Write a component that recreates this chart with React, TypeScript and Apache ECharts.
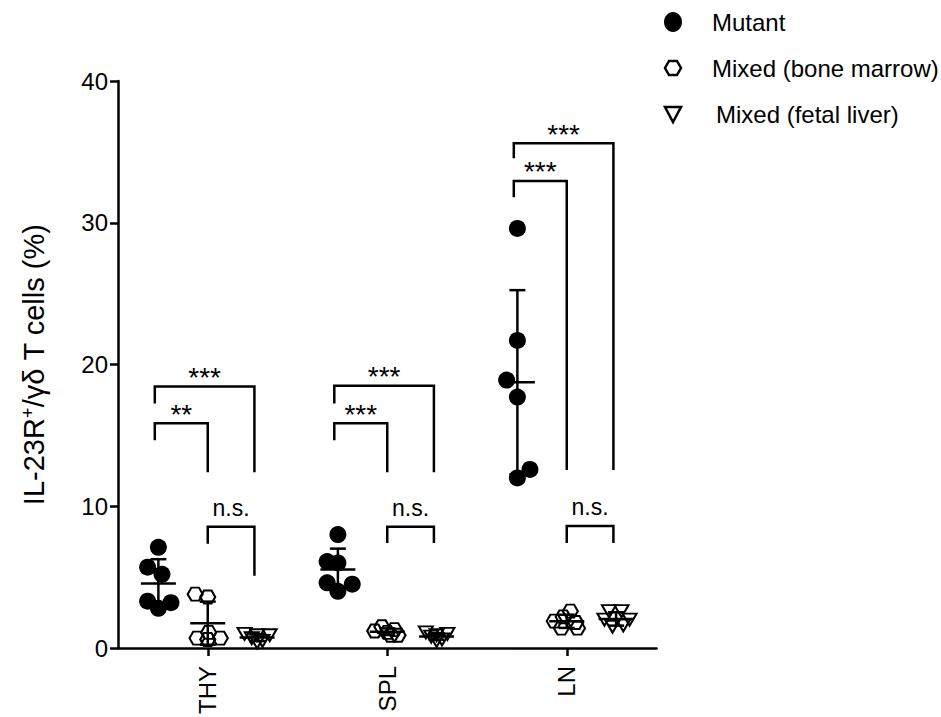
import React, { useEffect, useRef } from 'react';
import * as echarts from 'echarts';

const categories = ['THY', 'SPL', 'LN'];
const seriesNames = ['Mutant', 'Mixed (bone marrow)', 'Mixed (fetal liver)'];

const mutant = [
  [7.1, 5.7, 5.2, 3.3, 2.8, 3.2],
  [8.0, 6.1, 6.0, 4.6, 4.0, 4.5],
  [29.6, 21.7, 18.9, 17.7, 12.0, 12.6],
];
const mixedBoneMarrow = [
  [3.8, 3.6, 0.7, 0.6, 0.7, 1.1],
  [1.5, 1.3, 1.2, 1.1, 0.9, 0.9],
  [2.6, 2.2, 1.9, 1.8, 1.4, 1.4],
];
const mixedFetalLiver = [
  [1.0, 0.9, 0.9, 0.7, 0.5, 0.4],
  [1.1, 1.0, 0.9, 0.8, 0.6, 0.5],
  [2.6, 2.6, 2.0, 2.0, 1.5, 1.6],
];

// horizontal scatter of the points inside a group (x-axis units)
const mutantJitter = [
  [0.0, -0.06, 0.02, -0.06, 0.0, 0.07],
  [0.0, -0.06, 0.0, -0.06, 0.0, 0.08],
  [0.0, 0.0, -0.06, 0.0, 0.0, 0.07],
];
const boneMarrowJitter = [
  [-0.07, 0.0, -0.06, 0.0, 0.07, 0.005],
  [-0.03, 0.04, -0.07, 0.0, 0.06, 0.02],
  [0.02, -0.02, -0.07, 0.05, -0.03, 0.06],
];
const fetalLiverJitter = [
  [-0.07, 0.07, 0.0, -0.03, 0.03, 0.0],
  [-0.06, 0.06, 0.0, -0.03, 0.03, 0.0],
  [-0.04, 0.03, -0.065, 0.075, -0.02, 0.04],
];

// significance brackets: [group, fromSeries, toSeries, top, fromEnd, toEnd]
const brackets = [
  [0, 0, 2, 18.45, 17.25, 12.4],
  [0, 0, 1, 15.85, 14.65, 12.4],
  [0, 1, 2, 8.55, 7.35, 5.1],
  [1, 0, 2, 18.5, 17.25, 12.4],
  [1, 0, 1, 15.85, 14.65, 12.4],
  [1, 1, 2, 8.55, 7.4, 7.4],
  [2, 0, 2, 35.6, 34.55, 12.55],
  [2, 0, 1, 32.95, 31.8, 12.55],
  [2, 1, 2, 8.6, 7.4, 7.4],
];
const bracketLabels = ['***', '**', 'n.s.', '***', '***', 'n.s.', '***', '***', 'n.s.'];

const FONT = '"Liberation Sans", Arial, Helvetica, sans-serif';
const seriesOffset = [-0.275, 0, 0.275];
const bracketOffset = [-0.295, 0, 0.26];
const hexPath = 'path://M0,8.66L5,0L15,0L20,8.66L15,17.32L5,17.32Z';
const downTriPath = 'path://M0,0L16,0L8,14Z';

const allValues = [mutant, mixedBoneMarrow, mixedFetalLiver];
const allJitter = [mutantJitter, boneMarrowJitter, fetalLiverJitter];

function meanSd(v: number[]) {
  const m = v.reduce((a, b) => a + b, 0) / v.length;
  const s = Math.sqrt(v.reduce((a, b) => a + (b - m) * (b - m), 0) / (v.length - 1));
  return [m, s];
}

export default function App() {
  const ref = useRef<HTMLDivElement>(null);
  useEffect(() => {
    if (!ref.current) return;
    const chart = echarts.init(ref.current, undefined, { renderer: 'svg' });

    const hollow = { color: 'rgba(255,255,255,0)', borderColor: '#000', borderWidth: 2, opacity: 1 };
    const symbols: any[] = [
      { symbol: 'circle', symbolSize: 17, itemStyle: { color: '#000', opacity: 1 } },
      { symbol: hexPath, symbolSize: [15, 13], itemStyle: hollow },
      { symbol: downTriPath, symbolSize: [14, 12], itemStyle: hollow },
    ];

    const scatterSeries = seriesNames.map((name, si) => {
      const data: number[][] = [];
      allValues[si].forEach((vals, g) => {
        vals.forEach((v, k) => {
          data.push([g + 1 + seriesOffset[si] + allJitter[si][g][k], v]);
        });
      });
      return {
        name,
        type: 'scatter',
        data,
        ...symbols[si],
        z: 2,
      };
    });

    const errData: number[][] = [];
    allValues.forEach((groups, si) => {
      groups.forEach((vals, g) => {
        const [m, s] = meanSd(vals);
        errData.push([g + 1 + seriesOffset[si], m, s]);
      });
    });

    const lw = 2.5;
    const errSeries = {
      type: 'custom',
      z: 3,
      silent: true,
      data: errData,
      encode: { x: 0, y: 1 },
      renderItem: (params: any, api: any) => {
        const x = api.value(0);
        const m = api.value(1);
        const s = api.value(2);
        const c = api.coord([x, m]);
        const t = api.coord([x, m + s]);
        const b = api.coord([x, Math.max(m - s, 0)]);
        const st = { stroke: '#000', lineWidth: lw };
        return {
          type: 'group',
          children: [
            { type: 'line', shape: { x1: c[0], y1: t[1], x2: c[0], y2: b[1] }, style: st },
            { type: 'line', shape: { x1: c[0] - 17.5, y1: c[1], x2: c[0] + 17.5, y2: c[1] }, style: st },
            { type: 'line', shape: { x1: c[0] - 8, y1: t[1], x2: c[0] + 8, y2: t[1] }, style: st },
            { type: 'line', shape: { x1: c[0] - 8, y1: b[1], x2: c[0] + 8, y2: b[1] }, style: st },
          ],
        };
      },
    };

    const bracketData = brackets.map((b) => [
      b[0] + 1 + bracketOffset[b[1]],
      b[0] + 1 + bracketOffset[b[2]],
      b[3],
      b[4],
      b[5],
    ]);

    const bracketSeries = {
      type: 'custom',
      z: 4,
      silent: true,
      data: bracketData,
      encode: { x: [0, 1], y: [2, 3, 4] },
      renderItem: (params: any, api: any) => {
        const x1 = api.value(0);
        const x2 = api.value(1);
        const top = api.value(2);
        const p1 = api.coord([x1, top]);
        const p2 = api.coord([x2, top]);
        const e1 = api.coord([x1, api.value(3)]);
        const e2 = api.coord([x2, api.value(4)]);
        const label = bracketLabels[params.dataIndex];
        const isStar = label.indexOf('*') >= 0;
        return {
          type: 'group',
          children: [
            {
              type: 'polyline',
              shape: { points: [[p1[0], e1[1]], [p1[0], p1[1]], [p2[0], p2[1]], [p2[0], e2[1]]] },
              style: { stroke: '#000', lineWidth: lw, fill: 'none' },
            },
            {
              type: 'text',
              x: (p1[0] + p2[0]) / 2,
              y: p1[1] - (isStar ? 9 : 19),
              style: {
                text: label,
                fontSize: isStar ? 28 : 23,
                fontFamily: FONT,
                fill: '#000',
                align: 'center',
                verticalAlign: 'middle',
              },
            },
          ],
        };
      },
    };

    const axisLineStyle = { color: '#000', width: lw };

    // legend drawn as graphic elements (icon + label per series)
    const legendX = 673;
    const legendTextX = [712, 712, 716];
    const legendY = [22, 68, 114];
    const legendIcons: any[] = [
      { type: 'ellipse', shape: { cx: legendX, cy: legendY[0], rx: 9, ry: 10 }, style: { fill: '#000' } },
      {
        type: 'polygon',
        shape: {
          points: [
            [legendX - 8, legendY[1]],
            [legendX - 4, legendY[1] - 7],
            [legendX + 4, legendY[1] - 7],
            [legendX + 8, legendY[1]],
            [legendX + 4, legendY[1] + 7],
            [legendX - 4, legendY[1] + 7],
          ],
        },
        style: { fill: 'none', stroke: '#000', lineWidth: 2.5 },
      },
      {
        type: 'polygon',
        shape: {
          points: [
            [legendX - 8, legendY[2] - 7],
            [legendX + 8, legendY[2] - 7],
            [legendX, legendY[2] + 8],
          ],
        },
        style: { fill: 'none', stroke: '#000', lineWidth: 2.5 },
      },
    ];
    const legendTexts = seriesNames.map((name, i) => ({
      type: 'text',
      x: legendTextX[i],
      y: legendY[i],
      style: {
        text: name,
        fontSize: 24,
        fontFamily: FONT,
        fill: '#000',
        align: 'left',
        verticalAlign: 'middle',
      },
    }));

    chart.setOption({
      animation: false,
      backgroundColor: '#fff',
      textStyle: { fontFamily: FONT },
      grid: { left: 118, right: 284.5, top: 81, bottom: 65, containLabel: false },
      graphic: [...legendIcons, ...legendTexts],
      xAxis: {
        type: 'value',
        min: 0.5,
        max: 3.5,
        axisLine: { show: true, onZero: false, lineStyle: axisLineStyle },
        axisTick: { show: true, length: 8, customValues: [1, 2, 3], lineStyle: axisLineStyle },
        axisLabel: {
          customValues: [1, 2, 3],
          formatter: (v: number) => categories[Math.round(v) - 1] || '',
          rotate: 90,
          fontSize: 24,
          color: '#000',
          margin: 18,
          fontFamily: FONT,
        },
        splitLine: { show: false },
      },
      yAxis: {
        type: 'value',
        min: 0,
        max: 40,
        interval: 10,
        axisLine: { show: true, lineStyle: axisLineStyle },
        axisTick: { show: true, length: 8, lineStyle: axisLineStyle },
        axisLabel: { fontSize: 24, color: '#000', margin: 10, fontFamily: FONT },
        splitLine: { show: false },
        name: 'IL-23R{sup|+}/γδ T cells (%)',
        nameLocation: 'middle',
        nameGap: 70,
        nameTextStyle: {
          fontSize: 29,
          color: '#000',
          fontFamily: FONT,
          rich: {
            sup: { fontSize: 18, verticalAlign: 'top', color: '#000', fontFamily: FONT, padding: [0, 0, 10, 0] },
          },
        },
      },
      series: [...scatterSeries, errSeries, bracketSeries],
    });

    return () => chart.dispose();
  }, []);

  return (
    <div
      ref={ref}
      style={{ position: 'fixed', left: 0, top: 0, width: 941, height: 717, background: '#fff' }}
    />
  );
}
